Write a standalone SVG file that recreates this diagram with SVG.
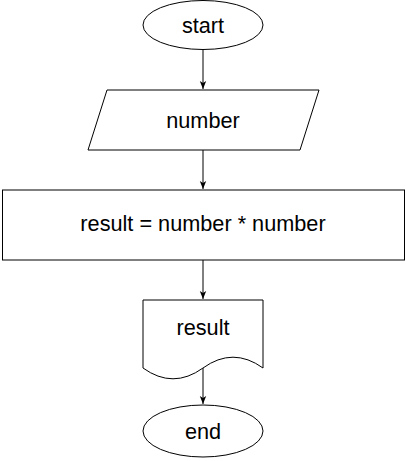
<svg xmlns="http://www.w3.org/2000/svg" width="406" height="461" viewBox="0 0 406 461">
<defs>
<style>
.shape{fill:#fff;stroke:#000;stroke-width:1}
.lbl{font-family:"Liberation Sans",Arial,Helvetica,sans-serif;font-size:21.7px;fill:#000;text-anchor:middle}
.edge{fill:none;stroke:#000;stroke-width:1}
</style>
<marker id="arr" viewBox="0 0 10 10" refX="10" refY="5" markerWidth="8" markerHeight="8" markerUnits="userSpaceOnUse" orient="auto">
<path d="M0,1 L10,5 L0,9 L2.5,5 Z" fill="#000"/>
</marker>
</defs>
<g id="connectors">
<path class="edge" d="M203,50 V89" marker-end="url(#arr)"/>
<path class="edge" d="M203,150 V189" marker-end="url(#arr)"/>
<path class="edge" d="M203,260 V299" marker-end="url(#arr)"/>
<path class="edge" d="M203,368 V404" marker-end="url(#arr)"/>
</g>
<g id="start">
<ellipse class="shape" cx="203" cy="25" rx="60" ry="24.5"/>
<text class="lbl" x="203" y="32.5">start</text>
</g>
<g id="input">
<polygon class="shape" points="107,90 319,90 300,150 88,150"/>
<text class="lbl" x="203" y="127.5">number</text>
</g>
<g id="process">
<rect class="shape" x="2.5" y="190" width="402" height="70"/>
<text class="lbl" x="203" y="230.5">result = number * number</text>
</g>
<g id="output">
<path class="shape" d="M143,300 H263 V368 Q233,346.4 203,368 Q173,389.6 143,368 Z"/>
<text class="lbl" x="203" y="335">result</text>
</g>
<g id="end">
<ellipse class="shape" cx="203" cy="431" rx="60" ry="26"/>
<text class="lbl" x="203" y="438.5">end</text>
</g>
</svg>
